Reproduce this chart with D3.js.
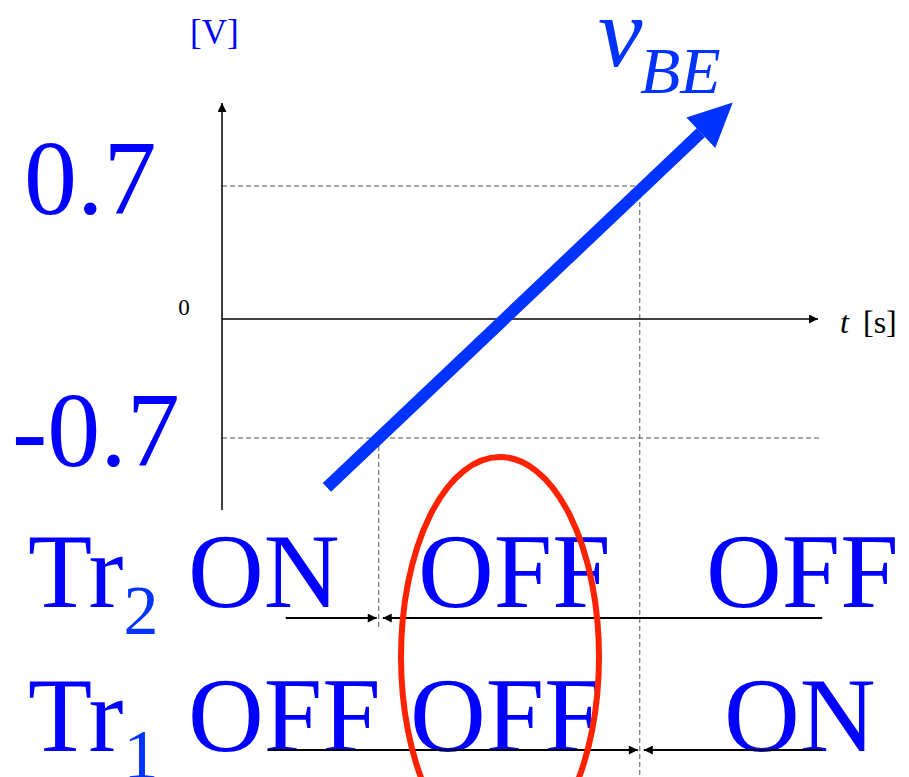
<html>
<head>
  <meta charset="utf8">
  <title>vBE</title>
  <style>
  * { margin: 0; padding: 0; }
  body { background: #fff; }
  </style>
</head>
<body>
  <script src="https://cdn.jsdelivr.net/npm/d3@7/dist/d3.min.js"></script>
  <script>
  var w = 909;
  var h = 777;

  // data
  var yTicks = [0.7, -0.7];
  var yTickLabels = ["0.7", "-0.7"];
  var vbeLine = [[1.76, -0.99], [8.57, 1.14]];   // [t, v]
  var tOn = 2.63;    // vBE reaches -0.7
  var tOff = 7.01;   // vBE reaches 0.7
  var tEnd = 10.07;
  var tr2States = ["ON", "OFF", "OFF"];
  var tr1States = ["OFF", "OFF", "ON"];
  var tr2Spans = [[1.07, tOn], [tEnd, tOn]];
  var tr1Spans = [[0.77, tOff], [tEnd, tOff]];

  var blue = "#0000ff";
  var vbeBlue = "#0033ff";
  var serif = "'Liberation Serif', 'Times New Roman', 'DejaVu Serif', serif";

  var xScale = d3.scaleLinear().domain([0, 10]).range([222, 818]);
  var yScale = d3.scaleLinear().domain([-0.7, 0, 0.7]).range([438, 319, 186]);

  var svg = d3.select("body").append("svg")
    .attr("width", w).attr("height", h)
    .attr("font-family", serif);

  var defs = svg.append("defs");
  function marker(id, color, mw, mh) {
    defs.append("marker")
      .attr("id", id)
      .attr("viewBox", "0 0 10 10")
      .attr("refX", 10).attr("refY", 5)
      .attr("markerWidth", mw).attr("markerHeight", mh)
      .attr("markerUnits", "userSpaceOnUse")
      .attr("orient", "auto")
      .append("path").attr("d", "M0,0L10,5L0,10Z").attr("fill", color);
  }
  marker("ax", "#000", 12, 9);

  // dashed guides
  var dash = "5,3";
  var guides = [
    [xScale(0), yScale(0.7), xScale(tOff), yScale(0.7)],
    [xScale(0), yScale(-0.7), xScale(tEnd), yScale(-0.7)],
    [xScale(tOn), yScale(-0.7), xScale(tOn), 630],
    [xScale(tOff), yScale(0.7), xScale(tOff), h]
  ];
  svg.selectAll("line.guide").data(guides).enter().append("line")
    .attr("class", "guide")
    .attr("x1", d => d[0]).attr("y1", d => d[1])
    .attr("x2", d => d[2]).attr("y2", d => d[3])
    .attr("stroke", "#555").attr("stroke-width", 1)
    .attr("stroke-dasharray", dash);

  // axes
  svg.append("line")
    .attr("x1", xScale(0)).attr("y1", 510)
    .attr("x2", xScale(0)).attr("y2", 103)
    .attr("stroke", "#000").attr("stroke-width", 1.5)
    .attr("marker-end", "url(#ax)");
  svg.append("line")
    .attr("x1", xScale(0)).attr("y1", yScale(0))
    .attr("x2", xScale(10)).attr("y2", yScale(0))
    .attr("stroke", "#000").attr("stroke-width", 1.5)
    .attr("marker-end", "url(#ax)");

  // axis labels
  svg.append("text").attr("x", 190).attr("y", 44)
    .attr("font-size", 35).attr("fill", blue).text("[V]");
  svg.append("text").attr("x", 184).attr("y", yScale(0) - 4)
    .attr("text-anchor", "middle")
    .attr("font-size", 23).attr("fill", "#000").text("0");
  svg.append("text").attr("x", 840).attr("y", 333)
    .attr("font-size", 32).attr("fill", "#000")
    .attr("font-style", "italic").text("t");
  svg.append("text").attr("x", 863).attr("y", 333)
    .attr("font-size", 32).attr("fill", "#000").text("[s]");

  svg.selectAll("text.ytick").data(yTicks).enter().append("text")
    .attr("class", "ytick")
    .attr("x", (d, i) => i === 0 ? 24 : 12)
    .attr("y", d => yScale(d) + 28)
    .attr("font-size", 106).attr("fill", blue)
    .text((d, i) => yTickLabels[i]);

  // vBE arrow
  var p0 = [xScale(vbeLine[0][0]), yScale(vbeLine[0][1])];
  var p1 = [xScale(vbeLine[1][0]), yScale(vbeLine[1][1])];
  var ang = Math.atan2(p1[1] - p0[1], p1[0] - p0[0]);
  var headLen = 44, headW = 21;
  var bx = p1[0] - headLen * Math.cos(ang), by = p1[1] - headLen * Math.sin(ang);
  svg.append("line")
    .attr("x1", p0[0]).attr("y1", p0[1]).attr("x2", bx).attr("y2", by)
    .attr("stroke", vbeBlue).attr("stroke-width", 12);
  var nx = -Math.sin(ang), ny = Math.cos(ang);
  svg.append("path")
    .attr("d", "M" + p1[0] + "," + p1[1] +
      "L" + (bx + nx * headW) + "," + (by + ny * headW) +
      "L" + (bx - nx * headW) + "," + (by - ny * headW) + "Z")
    .attr("fill", vbeBlue);

  svg.append("text").attr("x", 598).attr("y", 66)
    .attr("fill", vbeBlue).attr("font-style", "italic")
    .attr("font-size", 100).text("v");
  svg.append("text").attr("x", 640).attr("y", 93)
    .attr("fill", vbeBlue).attr("font-style", "italic")
    .attr("font-size", 66).text("BE");

  // state rows
  function row(sub, states, xs, base) {
    var t = svg.append("text").attr("x", 28).attr("y", base)
      .attr("font-size", 105).attr("fill", blue);
    t.append("tspan").text("Tr");
    t.append("tspan").attr("font-size", 70).attr("dy", 27)
      .attr("fill", vbeBlue).text(sub);
    svg.selectAll("text.st" + sub).data(states).enter().append("text")
      .attr("class", "st" + sub)
      .attr("x", (d, i) => xs[i]).attr("y", base)
      .attr("font-size", 105).attr("fill", blue)
      .text(d => d);
  }
  row("2", tr2States, [188, 418, 706], 607);
  row("1", tr1States, [188, 410, 724], 751);

  function spans(data, yy) {
    svg.selectAll(null).data(data).enter().append("line")
      .attr("x1", d => xScale(d[0])).attr("y1", yy)
      .attr("x2", d => xScale(d[1]) + (d[0] > d[1] ? 4 : -2)).attr("y2", yy)
      .attr("stroke", "#000").attr("stroke-width", 2)
      .attr("marker-end", "url(#ax)");
  }
  spans(tr2Spans, 618);
  spans(tr1Spans, 750);

  // red ellipse
  svg.append("ellipse")
    .attr("cx", 500).attr("cy", 657).attr("rx", 99).attr("ry", 200)
    .attr("fill", "none").attr("stroke", "#ff2200").attr("stroke-width", 6);
  </script>
</body>
</html>
